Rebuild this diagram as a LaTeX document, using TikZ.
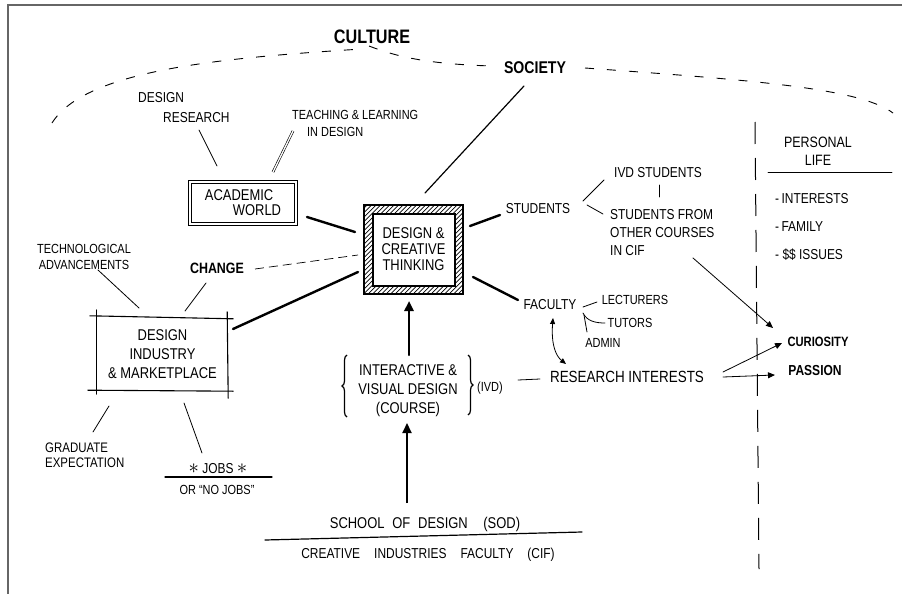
\documentclass[tikz,border=0pt]{standalone}
\usepackage{fontspec}
\setmainfont{Liberation Sans}[FakeStretch=0.83]
\usetikzlibrary{arrows.meta,calc,decorations.pathreplacing}
\begin{document}
\begin{tikzpicture}[x=1pt,y=-1pt,
  txt/.style={inner sep=0pt, align=center, font=\fontsize{14.4}{17}\selectfont},
  bld/.style={inner sep=0pt, align=center},
  lite/.style={line width=0.8pt, line cap=round},
  med/.style={line width=1.2pt, line cap=round},
  heavy/.style={line width=2.4pt, line cap=round},
  dbl/.style={double, double distance=1.3pt, line width=0.6pt},
  sketch/.style={line width=1.1pt, line cap=round},
  curve/.style={line width=0.9pt, dash pattern=on 9pt off 13pt},
  dashline/.style={line width=0.7pt, dash pattern=on 9pt off 5pt},
  divider/.style={line width=1pt, dash pattern=on 22pt off 14pt},
  frame/.style={line width=1.5pt, draw=black!60},
  bracestyle/.style={decorate, decoration={brace, amplitude=5pt}, line width=1.2pt},
  tip/.style={-{Triangle[width=6pt,length=7pt]}},
  bigtip/.style={-{Triangle[width=9pt,length=10pt]}}
]
\useasboundingbox (0,0) rectangle (902,594);
\draw[frame] (8,594) -- (8,5) -- (902,5);

% top labels and culture curve
\node[bld, font=\bfseries\fontsize{19.5}{22}\selectfont] (culture) at (372,37) {CULTURE};
\node[bld, font=\bfseries\fontsize{17}{20}\selectfont] (society) at (535,68) {SOCIETY};
\draw[curve] (52,123) .. controls (85,70) and (220,58) .. (362,49);
\draw[curve] (369,46) .. controls (395,56) and (425,64) .. (492,66);
\draw[curve] (585,68) .. controls (750,80) and (860,88) .. (893,113);

% academic world
\node[txt, align=left, anchor=west, font=\fontsize{14.4}{20}\selectfont] (dr) at (138,108) {DESIGN\\\hspace*{25pt}RESEARCH};
\node[txt, align=left, anchor=west, font=\fontsize{13.2}{17}\selectfont] (tl) at (292,123) {TEACHING \& LEARNING\\\hspace*{15pt}IN DESIGN};
\node[draw, double, double distance=2.2pt, line width=0.6pt, minimum width=106, minimum height=42, txt, align=left, font=\fontsize{15.6}{15}\selectfont] (acad) at (243,203) {ACADEMIC\\\hspace*{28pt}WORLD};

% central box
\node[txt, font=\fontsize{15.6}{16}\selectfont, minimum width=99, minimum height=89] (dct) at (413.5,249.5) {DESIGN \&\\CREATIVE\\THINKING};
\begin{scope}[even odd rule]
\clip (dct.north west) rectangle (dct.south east) ($(dct.north west)+(9,9)$) rectangle ($(dct.south east)+(-8,-8)$);
\foreach \k in {-95,-90.5,...,100} \draw[line width=0.7pt] ($(dct.south west)+(\k,0)$) -- ++(100,-100);
\end{scope}
\draw[line width=1.8pt] (dct.north west) rectangle (dct.south east);
\draw[line width=1.8pt] ($(dct.north west)+(9,9)$) rectangle ($(dct.south east)+(-8,-8)$);

% industry
\node[txt, font=\fontsize{15.6}{19}\selectfont, minimum width=131, minimum height=74] (ind) at (162.5,354) {DESIGN\\INDUSTRY\\\& MARKETPLACE};
\draw[sketch] ($(ind.north west)+(-7,-1)$) -- ($(ind.north east)+(5,2)$);
\draw[sketch] ($(ind.south west)+(-9,-1)$) -- ($(ind.south east)+(5,0)$);
\draw[sketch] ($(ind.north west)+(0,-7)$) -- ($(ind.south west)+(0,3)$);
\draw[sketch] ($(ind.north east)+(-1,-5)$) -- ($(ind.south east)+(0,7)$);
\node[txt, font=\fontsize{13.2}{16}\selectfont] (tech) at (84,257) {TECHNOLOGICAL\\ADVANCEMENTS};
\node[bld, font=\bfseries\fontsize{15}{16}\selectfont] (change) at (217,268) {CHANGE};
\node[txt, align=left, anchor=west, font=\fontsize{13.8}{15}\selectfont] (grad) at (45,455) {GRADUATE\\EXPECTATION};
\node[txt] (jobs) at (218,469) {{\fontsize{20}{20}\selectfont$\ast$} JOBS {\fontsize{20}{20}\selectfont$\ast$}};
\node[txt, font=\fontsize{13.2}{14}\selectfont] (nojobs) at (217,490) {OR ``NO JOBS''};

% course
\node[txt, font=\fontsize{15.6}{19}\selectfont] (ivd) at (408,391) {INTERACTIVE \&\\VISUAL DESIGN\\(COURSE)};
\draw[bracestyle] ($(ivd)+(-61,26)$) -- ($(ivd)+(-61,-36)$);
\draw[bracestyle] ($(ivd)+(60,-36)$) -- ($(ivd)+(60,24)$);
\node[txt, font=\fontsize{13.2}{14}\selectfont] (ivdab) at (490,388) {(IVD)};
\node[txt, font=\fontsize{15.6}{16}\selectfont] (sod) at (425,524) {SCHOOL\enspace OF\enspace DESIGN\quad(SOD)};
\node[txt] (cif) at (428,555) {CREATIVE\hspace{14pt}INDUSTRIES\hspace{14pt}FACULTY\hspace{14pt}(CIF)};

% right side
\node[txt] (students) at (538,209) {STUDENTS};
\node[txt] (ivdst) at (658,173) {IVD STUDENTS};
\node[txt, align=left, anchor=west, font=\fontsize{14.4}{18}\selectfont] (other) at (610,233) {STUDENTS FROM\\OTHER COURSES\\IN CIF};
\node[txt] (faculty) at (550,305) {FACULTY};
\node[txt, font=\fontsize{13.2}{14}\selectfont] (lect) at (635,300) {LECTURERS};
\node[txt, font=\fontsize{13.2}{14}\selectfont] (tutors) at (630,323) {TUTORS};
\node[txt, font=\fontsize{13.2}{14}\selectfont] (admin) at (603,343) {ADMIN};
\node[txt, font=\fontsize{16.2}{16}\selectfont] (research) at (627,377) {RESEARCH INTERESTS};
\node[bld, font=\bfseries\fontsize{13.5}{14}\selectfont] (curio) at (818,342) {CURIOSITY};
\node[bld, font=\bfseries\fontsize{14.5}{14}\selectfont] (passion) at (815,371) {PASSION};
\node[txt, font=\fontsize{15}{18}\selectfont] (personal) at (818,151) {PERSONAL\\LIFE};
\node[txt, align=left, anchor=west, font=\fontsize{14.4}{28}\selectfont] (plist) at (775,227) {-\,INTERESTS\\-\,FAMILY\\- \$\$ ISSUES};
\draw[lite] ($(personal)+(-50,21)$) -- ($(personal)+(74,21)$);
\draw[divider] (755,122) -- (759,569);

% connectors left / centre
\draw[lite] ($(dr.west)+(61,22)$) -- ($(acad)+(-26,-37)$);
\draw[dbl] ($(tl.west)+(1,8)$) -- ($(acad)+(30,-31)$);
\draw[heavy] ($(acad)+(64,14)$) -- ($(dct)+(-58.5,-17.5)$);
\draw[med] ($(dct)+(11.5,-56.5)$) -- ($(society)+(-11,18)$);
\draw[lite] ($(tech)+(14,13)$) -- ($(ind)+(-23.5,-46)$);
\draw[lite] ($(change)+(-11,15)$) -- ($(ind)+(22.5,-43)$);
\draw[dashline] ($(change)+(38,1)$) -- ($(dct)+(-55.5,5.5)$);
\draw[heavy] ($(ind)+(70.5,-25)$) -- ($(dct)+(-55.5,22.5)$);
\draw[lite] ($(ind)+(-53.5,52)$) -- ($(grad.west)+(48,-23)$);
\draw[lite] ($(ind)+(21.5,49)$) -- ($(jobs)+(-16,-16)$);
\draw[med] ($(jobs)+(-53,8)$) -- ($(jobs)+(54,8)$);
\draw[heavy, bigtip] ($(ivd)+(1,-36)$) -- ($(dct)+(-4.5,51.5)$);
\draw[line width=2pt, bigtip] ($(sod)+(-18,-21)$) -- ($(ivd)+(-1,32)$);
\draw[med] ($(sod)+(-160,16)$) -- ($(sod)+(157,8)$);

% connectors right
\draw[heavy] ($(dct)+(56.5,-23.5)$) -- ($(students)+(-38,6)$);
\draw[heavy] ($(dct)+(59.5,27.5)$) -- ($(faculty)+(-32,-5)$);
\draw[lite] ($(students)+(45,-8)$) -- ($(ivdst)+(-54,7)$);
\draw[lite] ($(students)+(49,-4)$) -- ($(other.west)+(-7,-19)$);
\draw[lite] ($(ivdst)+(1,12)$) -- ($(other.west)+(49,-36)$);
\draw[lite, tip] ($(other.west)+(83,25)$) -- ($(curio)+(-45,-14)$);
\draw[lite] ($(faculty)+(33,2)$) -- ($(lect)+(-38,2)$);
\draw[lite] ($(faculty)+(33,8)$) .. controls +(4,8) and +(-10,0) .. ($(tutors)+(-25,0)$);
\draw[lite] ($(faculty)+(34,10)$) -- ($(admin)+(-16,-11)$);
\draw[lite, {Triangle[width=5pt,length=6pt]}-{Triangle[width=5pt,length=6pt]}] ($(faculty)+(3,13)$) .. controls +(-2,27) and +(-10,-8) .. ($(research)+(-61,-13)$);
\draw[lite] ($(ivdab)+(28,-8)$) -- ($(research)+(-87,2)$);
\draw[lite, tip] ($(research)+(96,-5)$) -- ($(curio)+(-36,1)$);
\draw[lite, tip] ($(research)+(96,0)$) -- ($(passion)+(-40,4)$);
\end{tikzpicture}
\end{document}
